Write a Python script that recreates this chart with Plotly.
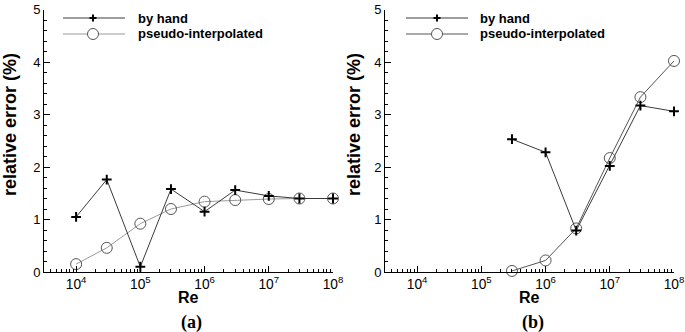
import plotly.graph_objects as go

# ---- data ----
re_a = [1e4, 3e4, 1e5, 3e5, 1e6, 3e6, 1e7, 3e7, 1e8]
hand_a = [1.05, 1.76, 0.10, 1.58, 1.15, 1.56, 1.45, 1.40, 1.40]
pseudo_a = [0.15, 0.46, 0.92, 1.20, 1.34, 1.37, 1.39, 1.40, 1.40]

re_b = [3e5, 1e6, 3e6, 1e7, 3e7, 1e8]
hand_b = [2.53, 2.28, 0.79, 2.02, 3.17, 3.06]
pseudo_b = [0.02, 0.22, 0.83, 2.17, 3.33, 4.02]

series_names = ["by hand", "pseudo-interpolated"]
panel_labels = ["(a)", "(b)"]
x_title = "Re"
y_title = "relative error (%)"

W, H = 685, 332


def px(x):
    return x / W


def py(y):
    return 1 - y / H


fig = go.Figure()

pseudo_line_colors = ["#9a9a9a", "#555555"]
hand_line = "#3a3a3a"

for i, (xs, hs, ps) in enumerate([(re_a, hand_a, pseudo_a), (re_b, hand_b, pseudo_b)]):
    xa = "x" if i == 0 else "x2"
    ya = "y" if i == 0 else "y2"
    fig.add_trace(go.Scatter(
        x=xs, y=ps, xaxis=xa, yaxis=ya, mode="lines+markers",
        name=series_names[1], showlegend=False, cliponaxis=False,
        line=dict(color=pseudo_line_colors[i], width=1),
        marker=dict(symbol="circle-open", size=11, color="#555555", line=dict(width=1)),
    ))
    fig.add_trace(go.Scatter(
        x=xs, y=hs, xaxis=xa, yaxis=ya, mode="lines+markers",
        name=series_names[0], showlegend=False, cliponaxis=False,
        line=dict(color=hand_line, width=1),
        marker=dict(symbol="cross-thin", size=7, color="black", line=dict(width=2, color="black")),
    ))

# empty traces so that the minor-tick overlay axes get drawn
fig.add_trace(go.Scatter(x=[], y=[], xaxis="x3", yaxis="y", showlegend=False, hoverinfo="skip"))
fig.add_trace(go.Scatter(x=[], y=[], xaxis="x4", yaxis="y2", showlegend=False, hoverinfo="skip"))

minor_x = [m * 10 ** e for e in range(3, 8) for m in range(2, 10)]

xdom = [[px(44), px(333)], [px(385), px(674)]]
ydom = [py(272), py(9.5)]
xrange_log = [3.5, 8]

axis_common_x = dict(
    type="log", range=xrange_log, tickmode="linear", tick0=0, dtick=1, exponentformat="power",
    ticks="inside", ticklen=6, tickwidth=1, tickcolor="black",
    showline=True, linecolor="black", linewidth=1, showgrid=False, zeroline=False,
    tickfont=dict(family="Liberation Sans, Arial", size=11, color="black"),
    automargin=False,
)
axis_minor_x = dict(
    type="log", range=xrange_log, tickmode="array", tickvals=minor_x,
    ticks="inside", ticklen=3, tickwidth=1, tickcolor="black",
    showticklabels=False, showline=False, showgrid=False, zeroline=False,
    automargin=False, side="bottom",
)
axis_common_y = dict(
    range=[0, 5], dtick=1,
    ticks="inside", ticklen=6, tickwidth=1, tickcolor="black",
    showline=True, linecolor="black", linewidth=1, showgrid=False, zeroline=False,
    tickfont=dict(family="Liberation Sans, Arial", size=13, color="black"),
    minor=dict(dtick=0.2, ticks="inside", ticklen=3, tickcolor="black", tickwidth=1, showgrid=False),
    automargin=False, domain=ydom,
)

fig.update_layout(
    width=W, height=H,
    margin=dict(l=0, r=0, t=0, b=0),
    paper_bgcolor="white", plot_bgcolor="white",
    showlegend=False,
    xaxis=dict(axis_common_x, domain=xdom[0], anchor="y"),
    yaxis=dict(axis_common_y, anchor="x"),
    xaxis2=dict(axis_common_x, domain=xdom[1], anchor="y2"),
    yaxis2=dict(axis_common_y, anchor="x2"),
    xaxis3=dict(axis_minor_x, domain=xdom[0], anchor="y", overlaying="x"),
    xaxis4=dict(axis_minor_x, domain=xdom[1], anchor="y2", overlaying="x2"),
)

annotations = []
shapes = []
bold = "Liberation Sans, Arial"
for i in range(2):
    cx = (xdom[i][0] + xdom[i][1]) / 2
    annotations.append(dict(x=cx, y=py(297), xref="paper", yref="paper", text="<b>%s</b>" % x_title,
                            showarrow=False, font=dict(family=bold, size=16, color="black"),
                            xanchor="center", yanchor="middle"))
    annotations.append(dict(x=px(191 + 342 * i), y=py(322), xref="paper", yref="paper",
                            text="<b>%s</b>" % panel_labels[i], showarrow=False,
                            font=dict(family="Liberation Serif, Times New Roman", size=18, color="black"),
                            xanchor="center", yanchor="middle"))
    annotations.append(dict(x=px(10 + 344 * i), y=py(125), xref="paper", yref="paper",
                            text="<b>%s</b>" % y_title, showarrow=False, textangle=-90,
                            font=dict(family=bold, size=18, color="black"),
                            xanchor="center", yanchor="middle"))
    # legend
    lx0 = 63 + 343 * i
    lx1 = 125 + 343 * i
    mx = 93 + 344 * i
    tx = 136 + 342 * i
    rows = [18, 34]
    line_cols = [hand_line, pseudo_line_colors[i]]
    for r, yy in enumerate(rows):
        shapes.append(dict(type="line", xref="paper", yref="paper", x0=px(lx0), x1=px(lx1),
                           y0=py(yy), y1=py(yy), line=dict(color=line_cols[r], width=1)))
        annotations.append(dict(x=px(tx), y=py(yy), xref="paper", yref="paper",
                                text="<b>%s</b>" % series_names[r], showarrow=False,
                                font=dict(family=bold, size=13, color="black"),
                                xanchor="left", yanchor="middle"))
    # plus marker
    shapes.append(dict(type="line", xref="paper", yref="paper", xsizemode="pixel", ysizemode="pixel",
                       xanchor=px(mx), yanchor=py(rows[0]), x0=-3.5, x1=3.5, y0=0, y1=0,
                       line=dict(color="black", width=2)))
    shapes.append(dict(type="line", xref="paper", yref="paper", xsizemode="pixel", ysizemode="pixel",
                       xanchor=px(mx), yanchor=py(rows[0]), x0=0, x1=0, y0=-3.5, y1=3.5,
                       line=dict(color="black", width=2)))
    # circle marker
    shapes.append(dict(type="circle", xref="paper", yref="paper", xsizemode="pixel", ysizemode="pixel",
                       xanchor=px(mx), yanchor=py(rows[1]), x0=-5.5, x1=5.5, y0=-5.5, y1=5.5,
                       line=dict(color="#555555", width=1), fillcolor="white"))

fig.update_layout(annotations=annotations, shapes=shapes)

fig.write_html("out.html", config={"displayModeBar": False},
               post_script="document.body.style.margin='0';document.body.style.padding='0';")
